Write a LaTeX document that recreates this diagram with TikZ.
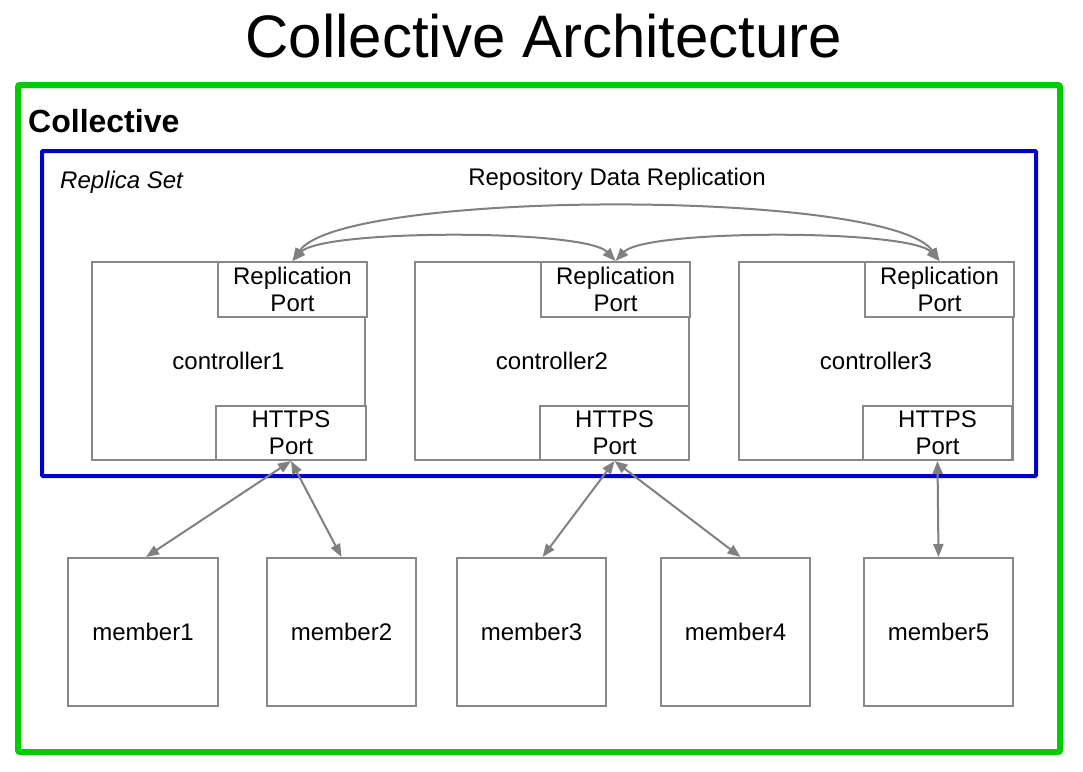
\documentclass[tikz,border=0pt]{standalone}
\usepackage{fontspec}
\setmainfont{Liberation Sans}
\usetikzlibrary{arrows.meta}
\definecolor{grn}{RGB}{0,204,0}
\definecolor{blu}{RGB}{0,0,204}
\definecolor{gbox}{RGB}{136,136,136}
\definecolor{garr}{RGB}{128,128,128}
\tikzset{
  box/.style={draw=gbox, line width=2pt, inner sep=0pt, anchor=north west, font=\fontsize{24}{27}\selectfont, align=center},
  portbox/.style={box, fill=white},
  arr/.style={draw=garr, line width=2pt, {Triangle[length=13pt,width=10pt]}-{Triangle[length=13pt,width=10pt]}},
  lbl/.style={inner sep=0pt, anchor=base west},
}
\begin{document}
\begin{tikzpicture}[x=1pt,y=-1pt]
\useasboundingbox (0,0) rectangle (1083,771);
% title
\node[inner sep=0pt, anchor=base, font=\fontsize{60}{60}\selectfont] (title) at (544,57) {Collective Architecture};
% frames
\draw[grn, line width=6pt, rounded corners=2pt] (18,85) rectangle (1060,752);
\node[lbl, font=\fontsize{32}{32}\selectfont\bfseries] (coll) at (28,132) {Collective};
\draw[blu, line width=4pt, rounded corners=1pt] (42,151) rectangle (1036,476);
\node[lbl, font=\fontsize{24}{24}\selectfont\itshape] (rs) at (60,188) {Replica Set};
\node[inner sep=0pt, anchor=base, font=\fontsize{24}{24}\selectfont] (rdr) at (617,185) {Repository Data Replication};
% controllers
\node[box, minimum width=273pt, minimum height=198pt] (c1) at (91,261) {controller1};
\node[box, minimum width=274pt, minimum height=198pt] (c2) at (414,261) {controller2};
\node[box, minimum width=274pt, minimum height=198pt] (c3) at (738,261) {controller3};
% replication ports
\node[portbox, minimum width=149pt, minimum height=55pt] (r1) at (217,261) {Replication\\Port};
\node[portbox, minimum width=149pt, minimum height=55pt] (r2) at (540,261) {Replication\\Port};
\node[portbox, minimum width=149pt, minimum height=55pt] (r3) at (864,261) {Replication\\Port};
% https ports
\node[portbox, minimum width=150pt, minimum height=54pt] (h1) at (215,405) {HTTPS\\Port};
\node[portbox, minimum width=149pt, minimum height=54pt] (h2) at (539,405) {HTTPS\\Port};
\node[portbox, minimum width=149pt, minimum height=54pt] (h3) at (862,405) {HTTPS\\Port};
% members
\node[box, minimum width=150pt, minimum height=148pt] (m1) at (67,557) {member1};
\node[box, minimum width=149pt, minimum height=148pt] (m2) at (266,557) {member2};
\node[box, minimum width=149pt, minimum height=148pt] (m3) at (456,557) {member3};
\node[box, minimum width=149pt, minimum height=148pt] (m4) at (660,557) {member4};
\node[box, minimum width=149pt, minimum height=148pt] (m5) at (863,557) {member5};
% replication arcs
\draw[arr] (r1.north) .. controls +(30,-32) and +(-30,-32) .. (r2.north);
\draw[arr] (r2.north) .. controls +(30,-32) and +(-30,-32) .. (r3.north);
\draw[arr] (r1.north) .. controls +(50,-72) and +(-50,-72) .. (r3.north);
% https links
\draw[arr] (h1.south) -- ([xshift=3pt]m1.north);
\draw[arr] (h1.south) -- (m2.north);
\draw[arr] (h2.south) -- ([xshift=11pt]m3.north);
\draw[arr] (h2.south) -- ([xshift=5pt]m4.north);
\draw[arr] (h3.south) -- (m5.north);
\end{tikzpicture}
\end{document}
